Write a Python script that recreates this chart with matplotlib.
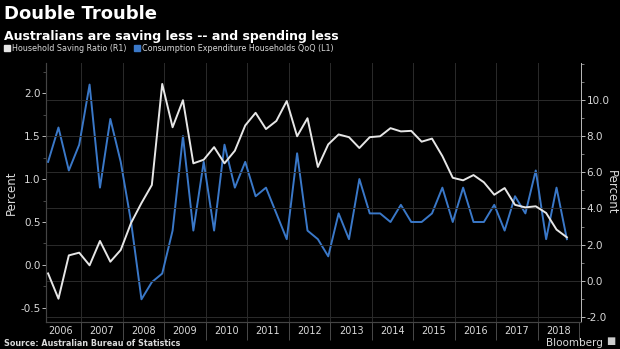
import numpy as np
import matplotlib.pyplot as plt
from matplotlib.lines import Line2D
from matplotlib.ticker import FixedLocator, MultipleLocator

# quarterly data, Q1 2006 .. Q3 2018
first_quarter = 2006.2
consumption_qoq = [1.2, 1.6, 1.1, 1.4, 2.1, 0.9, 1.7, 1.2,
                   0.5, -0.4, -0.2, -0.1, 0.4, 1.5, 0.4, 1.2,
                   0.4, 1.4, 0.9, 1.2, 0.8, 0.9, 0.6, 0.3,
                   1.3, 0.4, 0.3, 0.1, 0.6, 0.3, 1.0, 0.6,
                   0.6, 0.5, 0.7, 0.5, 0.5, 0.6, 0.9, 0.5,
                   0.9, 0.5, 0.5, 0.7, 0.4, 0.8, 0.6, 1.1,
                   0.3, 0.9, 0.3]
saving_ratio = [0.4, -1.0, 1.4, 1.55, 0.85, 2.2, 1.05, 1.7,
                3.2, 4.3, 5.3, 10.9, 8.5, 10.0, 6.5, 6.7,
                7.4, 6.5, 7.2, 8.6, 9.3, 8.4, 8.85, 9.95,
                8.0, 9.0, 6.3, 7.55, 8.1, 7.95, 7.35, 7.95,
                8.0, 8.45, 8.27, 8.3, 7.7, 7.87, 6.9, 5.7,
                5.56, 5.85, 5.45, 4.76, 5.13, 4.2, 4.06, 4.12,
                3.75, 2.83, 2.4]
years = list(range(2006, 2019))

bg = '#000000'
fg = '#d9d9d9'
blue = '#3a78c8'
white = '#e6e6e6'
grid = '#2b2b2b'

plt.rcParams['font.family'] = ['DejaVu Sans']

fig = plt.figure(figsize=(6.2, 3.49), dpi=100, facecolor=bg)
ax = fig.add_axes([0.0742, 0.0774, 0.8629, 0.7421], facecolor=bg)
ax2 = ax.twinx()

x = first_quarter + 0.25 * np.arange(len(consumption_qoq))

ax2.plot(x, saving_ratio, color=white, lw=1.4, zorder=3)
ax.plot(x, consumption_qoq, color=blue, lw=1.4, zorder=3)

ax.set_xlim(2006.15, 2019.04)
ax.set_ylim(-0.664, 2.351)
ax2.set_ylim(-2.29, 12.06)

# year labels sit mid-year, separators at year boundaries
ax.xaxis.set_major_locator(FixedLocator([y + 0.5 for y in years]))
ax.set_xticklabels([str(y) for y in years])
ax.xaxis.set_minor_locator(FixedLocator(years[1:] + [2019]))
ax.tick_params(axis='x', which='major', length=0, pad=3, colors=fg, labelsize=7)
ax.tick_params(axis='x', which='minor', length=13, width=0.6, color='#555555')

ax.set_yticks([-0.5, 0.0, 0.5, 1.0, 1.5, 2.0])
ax.set_yticklabels(['-0.5', '0.0', '0.5', '1.0', '1.5', '2.0'])
ax.yaxis.set_minor_locator(MultipleLocator(0.25))
ax.tick_params(axis='y', which='major', length=3, width=0.6, colors=fg, labelsize=7.5, pad=1)
ax.tick_params(axis='y', which='minor', length=2, width=0.5, color='#666666')

ax2.set_yticks([-2, 0, 2, 4, 6, 8, 10])
ax2.set_yticklabels(['-2.0', '0.0', '2.0', '4.0', '6.0', '8.0', '10.0'])
ax2.yaxis.set_minor_locator(MultipleLocator(1))
ax2.tick_params(axis='y', which='major', length=3, width=0.6, colors=fg, labelsize=7.5, pad=1)
ax2.tick_params(axis='y', which='minor', length=2, width=0.5, color='#aaaaaa')

# grid: horizontal from the right scale, vertical at year boundaries
for v in [-2, 0, 2, 4, 6, 8, 10]:
    ax2.axhline(v, color=grid, lw=0.7, zorder=0)
for yv in years[1:]:
    ax.axvline(yv, color=grid, lw=0.7, zorder=0)

for a in (ax, ax2):
    a.spines['top'].set_visible(False)
    a.spines['right'].set_visible(False)
    a.spines['left'].set_color('#444444')
    a.spines['bottom'].set_color('#444444')
ax2.spines['right'].set_visible(True)
ax2.spines['right'].set_color('#bbbbbb')
ax2.spines['right'].set_linewidth(0.7)

ax.set_ylabel('Percent', color=fg, fontsize=8.5, labelpad=2)
ax2.set_ylabel('Percent', color=fg, fontsize=8.5, rotation=270, labelpad=6)

fig.text(0.006, 0.985, 'Double Trouble', color='white', fontsize=13,
         fontweight='bold', va='top', ha='left')
fig.text(0.006, 0.915, 'Australians are saving less -- and spending less',
         color='white', fontsize=9, fontweight='bold', va='top', ha='left')

handles = [Line2D([], [], ls='none', marker='s', ms=4.5, color=white),
           Line2D([], [], ls='none', marker='s', ms=4.5, color=blue)]
fig.legend(handles, ['Household Saving Ratio (R1)',
                     'Consumption Expenditure Households QoQ (L1)'],
           loc='center left', bbox_to_anchor=(0.003, 0.862), ncol=2,
           frameon=False, fontsize=5.8, labelcolor=fg, handlelength=0.6,
           handletextpad=0.3, columnspacing=1.0, borderaxespad=0)

fig.text(0.006, 0.004, 'Source: Australian Bureau of Statistics', color=fg,
         fontsize=5.8, fontweight='bold', va='bottom', ha='left')
fig.text(0.972, 0.004, 'Bloomberg', color=fg, fontsize=7.5,
         va='bottom', ha='right')
fig.text(0.978, 0.008, '\u25a0', color='#cccccc', fontsize=7,
         va='bottom', ha='left')

fig.savefig('out.png', dpi=100, facecolor=bg)
